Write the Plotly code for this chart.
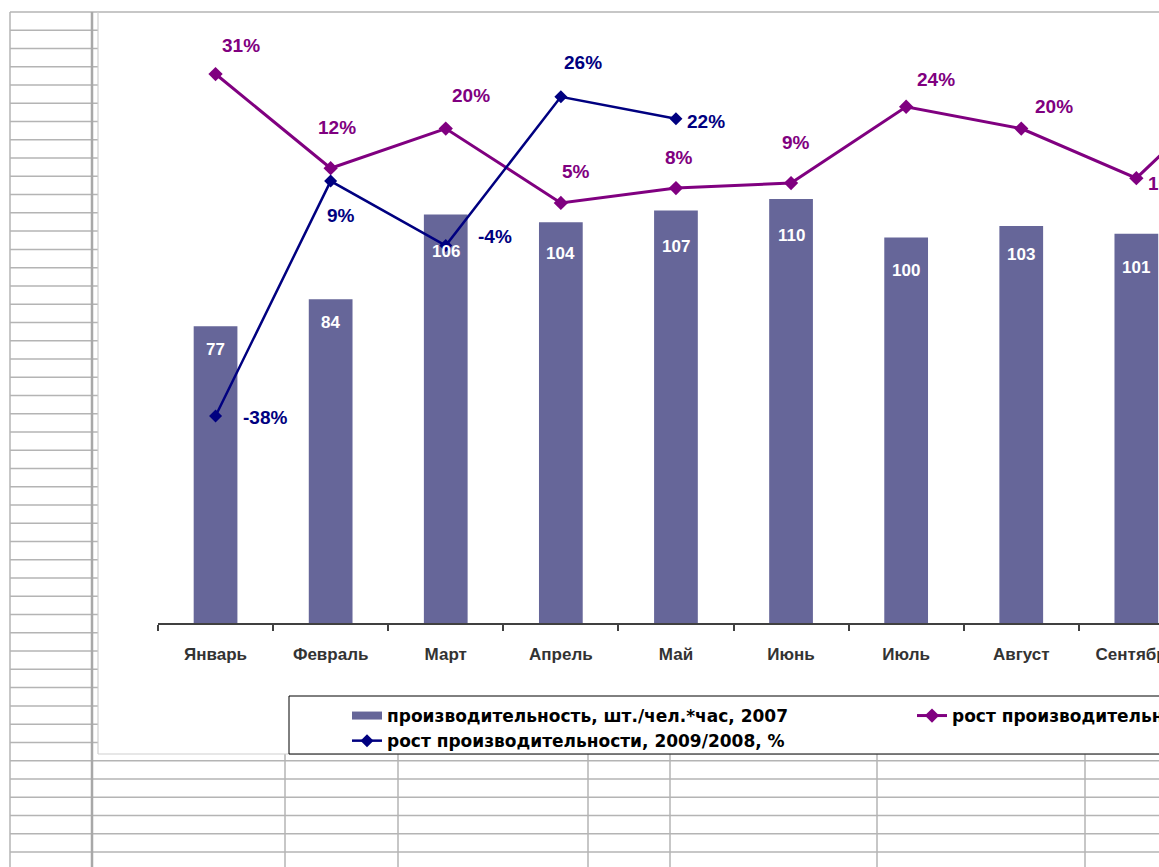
import plotly.graph_objects as go

# ---------------- data ----------------
months = ["Январь", "Февраль", "Март", "Апрель", "Май", "Июнь", "Июль",
          "Август", "Сентябрь", "Октябрь", "Ноябрь", "Декабрь"]
productivity_2007 = [77, 84, 106, 104, 107, 110, 100, 103, 101]
growth_2008_2007 = [0.31, 0.12, 0.20, 0.05, 0.08, 0.09, 0.244, 0.20, 0.10, 0.32]
growth_2009_2008 = [-0.38, 0.094, -0.036, 0.264, 0.22]

name_bar = "производительность, шт./чел.*час, 2007"
name_purple = "рост производительности, 2008/2007, %"
name_blue = "рост производительности, 2009/2008, %"

# label offsets in px (dx, dy screen-down positive) – styling only
bar_label_drop = [23, 23, 37, 31, 36, 36, 33, 29, 34]
purple_label_off = [(25, -29), (6, -41), (25, -33), (15, -31), (3, -31),
                    (5, -41), (30, -27), (33, -22), (31, 5), (25, -30)]
blue_label_off = [(49, 1), (10, 34), (49, -9), (22, -34), (30, 3)]

# ---------------- geometry ----------------
FW, FH = 1159, 867
L, T, BOTTOM = 158, 30, 623
W = FW - L
H = BOTTOM - T


def xp(px):
    return (px - L) / W


def yp(py):
    return (BOTTOM - py) / H


BAR = "#666699"
PURPLE = "#800080"
NAVY = "#000080"
FONT = "Arial, Liberation Sans, sans-serif"

fig = go.Figure()
n = len(productivity_2007)
fig.add_trace(go.Bar(x=months[:n], y=productivity_2007, marker=dict(color=BAR, line=dict(width=0)),
                     width=0.38, showlegend=False, name=name_bar))
fig.add_trace(go.Scatter(x=[None], y=[None], mode="lines", name=name_bar,
                         line=dict(color=BAR, width=8), legend="legend"))
fig.add_trace(go.Scatter(x=months[:len(growth_2008_2007)], y=growth_2008_2007, yaxis="y2",
                         mode="lines+markers", name=name_purple, legend="legend2",
                         line=dict(color=PURPLE, width=3),
                         marker=dict(symbol="diamond", size=11, color=PURPLE)))
fig.add_trace(go.Scatter(x=months[:len(growth_2009_2008)], y=growth_2009_2008, yaxis="y2",
                         mode="lines+markers", name=name_blue, legend="legend",
                         line=dict(color=NAVY, width=2.5),
                         marker=dict(symbol="diamond", size=10, color=NAVY)))

ann = []
for m, v, d in zip(months, productivity_2007, bar_label_drop):
    ann.append(dict(x=m, y=v, xref="x", yref="y", text=str(v), showarrow=False,
                    yshift=-d, font=dict(family=FONT, size=17, color="white", weight="bold")))
for m, v, (dx, dy) in zip(months, growth_2008_2007, purple_label_off):
    ann.append(dict(x=m, y=v, xref="x", yref="y2", text=f"{round(v * 100):d}%", showarrow=False,
                    xshift=dx, yshift=-dy, font=dict(family=FONT, size=19, color=PURPLE, weight="bold")))
for m, v, (dx, dy) in zip(months, growth_2009_2008, blue_label_off):
    ann.append(dict(x=m, y=v, xref="x", yref="y2", text=f"{round(v * 100):d}%", showarrow=False,
                    xshift=dx, yshift=-dy, font=dict(family=FONT, size=19, color=NAVY, weight="bold")))

# ---------------- spreadsheet background decoration ----------------
shapes = []
GRID = "#b4b4b4"


def hline(y, x0, x1, color=GRID, width=1.5):
    shapes.append(dict(type="line", xref="paper", yref="paper", x0=xp(x0), x1=xp(x1),
                       y0=yp(y), y1=yp(y), line=dict(color=color, width=width), layer="above"))


def vline(x, y0, y1, color=GRID, width=1.5):
    shapes.append(dict(type="line", xref="paper", yref="paper", x0=xp(x), x1=xp(x),
                       y0=yp(y0), y1=yp(y1), line=dict(color=color, width=width), layer="above"))


k = 1
while True:
    y = 12 + 18.26 * k
    if y > FH + 2:
        break
    if y < 750:
        hline(y, 10, 98)
    else:
        hline(y, 10, FW + 5)
    k += 1
hline(12, 10, FW + 5)
vline(10, 12, FH + 5)
vline(92, 12, FH + 5, width=2.5, color="#a8a8a8")
vline(98, 12, 754, color="#cfcfcf", width=1.2)
for cx in [285, 398, 588, 670, 877, 1085]:
    vline(cx, 754, FH + 5)
hline(754, 98, FW + 5, color="#cfcfcf", width=1.2)
shapes.append(dict(type="rect", xref="paper", yref="paper", x0=xp(289), x1=xp(FW + 20),
                   y0=yp(754), y1=yp(696), line=dict(color="black", width=1),
                   fillcolor="white", layer="above"))

legend_font = dict(family="DejaVu Sans, sans-serif", size=17, color="black", weight="bold")
fig.update_layout(
    width=FW, height=FH,
    margin=dict(l=L, r=0, t=T, b=FH - BOTTOM, pad=0, autoexpand=False),
    paper_bgcolor="white", plot_bgcolor="white",
    xaxis=dict(type="category", categoryorder="array", categoryarray=months,
               range=[-0.5, -0.5 + W / 115.1], showgrid=False, zeroline=False,
               showline=True, linecolor="#404040", linewidth=1.5,
               ticks="outside", tickson="boundaries", ticklen=6, tickcolor="#404040", tickwidth=1.5,
               tickfont=dict(family=FONT, size=17, color="#333333", weight="bold"),
               ticklabelstandoff=15, automargin=False),
    yaxis=dict(range=[0, H / 3.8545], visible=False),
    yaxis2=dict(range=[-(BOTTOM - 227.7) / 4.957 / 100, (227.7 - T) / 4.957 / 100],
                overlaying="y", visible=False),
    legend=dict(x=xp(347), y=yp(698), xanchor="left", yanchor="top", orientation="v",
                bgcolor="rgba(0,0,0,0)", borderwidth=0, font=legend_font,
                itemwidth=30, tracegroupgap=0),
    legend2=dict(x=xp(912), y=yp(698), xanchor="left", yanchor="top", orientation="v",
                 bgcolor="rgba(0,0,0,0)", borderwidth=0, font=legend_font, itemwidth=30),
    annotations=ann,
    shapes=shapes,
    bargap=0.6,
)

fig.write_html("out.html")
